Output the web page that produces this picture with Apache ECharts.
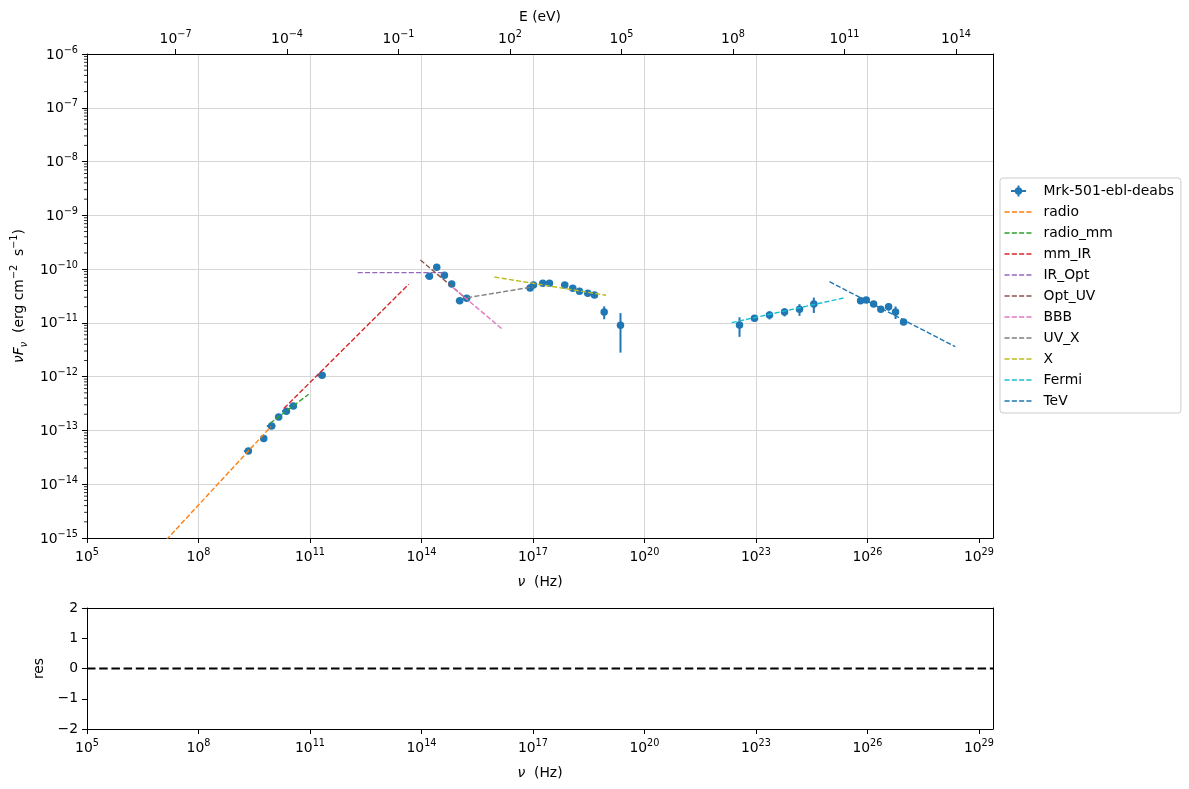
<!DOCTYPE html>
<html><head><meta charset="utf-8">
<script src="https://cdn.jsdelivr.net/npm/echarts@6/dist/echarts.min.js"></script>
<style>html,body{margin:0;padding:0;background:#fff}#c{width:1189px;height:789px}</style>
</head><body><div id="c"></div><script>
// ---------------- data ----------------
const SED_NAME = 'Mrk-501-ebl-deabs';
// observed SED points: frequency (Hz), nuFnu (erg cm^-2 s^-1) and symmetric errors
const nu = [2.2e9, 5.7e9, 9.3e9, 1.44e10, 2.32e10, 3.57e10, 2.11e11,
  1.64e14, 2.58e14, 4.15e14, 6.52e14, 1.07e15, 1.65e15,
  8.4e16, 1.03e17, 1.84e17, 2.78e17, 7.18e17, 1.18e18, 1.79e18, 2.99e18, 4.53e18, 8.26e18, 2.27e19,
  3.62e22, 9.16e22, 2.32e23, 5.89e23, 1.49e24, 3.62e24,
  6.55e25, 9.33e25, 1.47e26, 2.30e26, 3.72e26, 5.73e26, 9.40e26];
const nuFnu = [4.15e-14, 7.1e-14, 1.21e-13, 1.78e-13, 2.27e-13, 2.85e-13, 1.06e-12,
  7.35e-11, 1.08e-10, 7.67e-11, 5.28e-11, 2.59e-11, 2.86e-11,
  4.46e-11, 5.07e-11, 5.44e-11, 5.44e-11, 5.07e-11, 4.40e-11, 3.86e-11, 3.55e-11, 3.30e-11, 1.60e-11, 9.0e-12,
  9.1e-12, 1.22e-11, 1.40e-11, 1.60e-11, 1.79e-11, 2.24e-11,
  2.59e-11, 2.66e-11, 2.24e-11, 1.79e-11, 2.0e-11, 1.60e-11, 1.04e-11];
const nuErr = [5.3e8, 0.8e9, 2.4e9, 3.0e9, 5.5e9, 8.0e9, 5.5e10,
  4.0e13, 0, 0, 0, 2.3e14, 0,
  1.4e16, 0, 0, 0, 1.5e17, 0, 0, 0, 0, 0, 0,
  0, 0, 0, 0, 0, 0,
  1.3e25, 0, 0, 0, 0, 0, 0];
const nuFnuErr = [1.2e-15, 2e-15, 3.5e-15, 5e-15, 7e-15, 8e-15, 3e-14,
  2e-12, 3e-12, 2e-12, 1.5e-12, 8e-13, 8e-13,
  1.5e-12, 1.5e-12, 1.5e-12, 1.5e-12, 1.5e-12, 1.3e-12, 1.2e-12, 1.1e-12, 1e-12, 4.3e-12, 6.2e-12,
  3.6e-12, 1.7e-12, 2.4e-12, 2.8e-12, 4.4e-12, 7.1e-12,
  3.5e-12, 2.5e-12, 1.5e-12, 1.5e-12, 3.1e-12, 4.2e-12, 1e-12];

// model components (power-law segments): endpoints in Hz and erg cm^-2 s^-1
const modelNames  = ['radio', 'radio_mm', 'mm_IR', 'IR_Opt', 'Opt_UV', 'BBB', 'UV_X', 'X', 'Fermi', 'TeV'];
const modelColors = ['#ff7f0e', '#2ca02c', '#d62728', '#9467bd', '#8c564b', '#e377c2', '#7f7f7f', '#bcbd22', '#17becf', '#1f77b4'];
const modelNu = [
  [1e7, 8.91e9], [8.43e9, 9.23e10], [2.0e10, 4.54e13], [1.92e12, 4.60e14], [9.38e13, 1.78e15],
  [7.08e14, 1.45e16], [1.70e15, 1.0e17], [9.2e15, 9.33e18], [2.24e22, 2.28e25], [9.57e24, 2.32e28]];
const modelFlux = [
  [7.33e-16, 1.18e-13], [1.36e-13, 4.70e-13], [2.58e-13, 5.22e-11], [8.6e-11, 8.6e-11], [1.48e-10, 2.65e-11],
  [4.54e-11, 7.80e-12], [2.94e-11, 4.68e-11], [7.13e-11, 3.26e-11], [1.01e-11, 2.90e-11], [5.83e-11, 3.61e-12]];

// residuals: only the zero reference line
const residualLevel = 0;

// tick labels (exponents)
const xTickExp = [5, 8, 11, 14, 17, 20, 23, 26, 29];
const yTickExp = [-15, -14, -13, -12, -11, -10, -9, -8, -7, -6];
const eTickExp = [-7, -4, -1, 2, 5, 8, 11, 14];
const resTicks = [-2, -1, 0, 1, 2];

// ---------------- layout / style ----------------
const X_MIN = 5, X_MAX = 29.38;
const LOG_H_EV = Math.log10(4.135667696e-15); // E = h*nu
const FONT = 'DejaVu Sans';
const FS = 13.9;
const GRID_COLOR = '#d6d6d6';
const PT_COLOR = '#1f77b4';
const L = Math.log10;

const minusify = (n) => (n < 0 ? '\u2212' + (-n) : '' + n);
const powRich = {
  b: {fontFamily: FONT, fontSize: FS, color: '#000', verticalAlign: 'bottom', lineHeight: 16},
  s: {fontFamily: FONT, fontSize: 9.7, color: '#000', verticalAlign: 'bottom', lineHeight: 11, padding: [0, 0, 7, 0]}
};
function powLabel(v) {
  const r = Math.round(v);
  if (Math.abs(v - r) > 1e-6) return '';
  return '{b|10}{s|' + minusify(r) + '}';
}
const nameRich = {
  i: {fontFamily: FONT, fontSize: FS, fontStyle: 'italic', color: '#000', verticalAlign: 'bottom', lineHeight: 16, padding: [0, 0, 3, 0]},
  n: {fontFamily: FONT, fontSize: FS, color: '#000', verticalAlign: 'bottom', lineHeight: 16, padding: [0, 0, 3, 0]},
  sub: {fontFamily: FONT, fontSize: 9.7, fontStyle: 'italic', color: '#000', verticalAlign: 'bottom', lineHeight: 11, padding: [0, 0, 0, 0]},
  sup: {fontFamily: FONT, fontSize: 9.7, color: '#000', verticalAlign: 'bottom', lineHeight: 11, padding: [0, 0, 10, 0]}
};

// minor ticks of log y axis
const minorY = [];
for (let n = -15; n < -6; n++) for (let k = 2; k <= 9; k++) minorY.push([X_MIN, n + L(k)]);

// ---------------- series ----------------
const errData = nu.map((x, i) => {
  const y = nuFnu[i], dy = nuFnuErr[i], dx = nuErr[i];
  const yl = y - dy > 0 ? L(y - dy) : L(y) - 3;
  return [L(x), L(y), dx > 0 ? L(x - dx) : L(x), L(x + dx), yl, L(y + dy)];
});
const ptData = nu.map((x, i) => [L(x), L(nuFnu[i])]);

const series = [];
series.push({
  type: 'custom', name: '_minor', xAxisIndex: 0, yAxisIndex: 0, silent: true, clip: false, z: 10,
  data: minorY,
  renderItem: (p, api) => {
    const c = api.coord([api.value(0), api.value(1)]);
    return {type: 'line', shape: {x1: c[0] - 3, y1: c[1], x2: c[0], y2: c[1]}, style: {stroke: '#000', lineWidth: 0.8}};
  }
});
series.push({
  type: 'custom', name: SED_NAME, xAxisIndex: 0, yAxisIndex: 0, silent: true, z: 4,
  data: errData,
  renderItem: (p, api) => {
    const c = api.coord([api.value(0), api.value(1)]);
    const xl = api.coord([api.value(2), api.value(1)]);
    const xh = api.coord([api.value(3), api.value(1)]);
    const yl = api.coord([api.value(0), api.value(4)]);
    const yh = api.coord([api.value(0), api.value(5)]);
    return {type: 'group', children: [
      {type: 'line', shape: {x1: xl[0], y1: c[1], x2: xh[0], y2: c[1]}, style: {stroke: PT_COLOR, lineWidth: 2}},
      {type: 'line', shape: {x1: c[0], y1: yl[1], x2: c[0], y2: yh[1]}, style: {stroke: PT_COLOR, lineWidth: 2}}
    ]};
  },
  itemStyle: {color: PT_COLOR}
});
series.push({
  type: 'scatter', name: SED_NAME, xAxisIndex: 0, yAxisIndex: 0, silent: true, z: 5,
  symbol: 'circle', symbolSize: 7.5, itemStyle: {color: PT_COLOR, opacity: 1},
  data: ptData
});
modelNames.forEach((n, i) => {
  series.push({
    type: 'line', name: n, xAxisIndex: 0, yAxisIndex: 0, silent: true, z: 6, clip: true,
    symbol: 'none', showSymbol: false,
    lineStyle: {color: modelColors[i], width: 1.4, type: [5.1, 2.2]},
    itemStyle: {color: modelColors[i]},
    data: modelNu[i].map((x, j) => [L(x), L(modelFlux[i][j])])
  });
});
series.push({
  type: 'line', name: '_res', xAxisIndex: 2, yAxisIndex: 2, silent: true, symbol: 'none', showSymbol: false,
  lineStyle: {color: '#000', width: 2, type: [8.5, 3.7]},
  data: [[X_MIN, residualLevel], [X_MAX, residualLevel]]
});

// ---------------- legend icons ----------------
const corners = 'M0,0h0.01v0.01h-0.01zM28,14h0.01v0.01h-0.01z';
const dashIcon = 'path://' + corners + 'M0,6.3h5.1v1.4h-5.1zM7.3,6.3h5.1v1.4h-5.1zM14.6,6.3h5.1v1.4h-5.1zM21.9,6.3h5.1v1.4h-5.1z';
const markerIcon = 'path://' + corners + 'M6.5,6h15v2h-15zM13,1.5h2v11h-2zM10.3,7a3.7,3.7 0 1,1 7.4,0a3.7,3.7 0 1,1 -7.4,0z';

const axisLineBlack = {show: true, onZero: false, lineStyle: {color: '#000', width: 1}};
const tickBlack = {show: true, inside: false, length: 5, lineStyle: {color: '#000', width: 1}};

const option = {
  animation: false,
  backgroundColor: '#fff',
  grid: [
    {left: 87, right: 196, top: 54, height: 484, containLabel: false},
    {left: 87, right: 196, top: 608, height: 121, containLabel: false}
  ],
  legend: {
    orient: 'vertical', left: 1000, top: 178, padding: [6, 7, 5, 4.5],
    itemWidth: 28, itemHeight: 14, itemGap: 7,
    backgroundColor: 'rgba(255,255,255,0.8)', borderColor: '#cccccc', borderWidth: 1, borderRadius: 3,
    selectedMode: false,
    textStyle: {fontFamily: FONT, fontSize: FS, color: '#000', padding: [0, 0, 0, 6]},
    data: [{name: SED_NAME, icon: markerIcon, itemStyle: {color: PT_COLOR}}]
      .concat(modelNames.map((n, i) => ({name: n, icon: dashIcon, itemStyle: {color: modelColors[i]}})))
  },
  xAxis: [
    { gridIndex: 0, type: 'value', position: 'bottom', min: X_MIN, max: X_MAX, interval: 3,
      axisLine: axisLineBlack,
      axisTick: Object.assign({customValues: xTickExp}, tickBlack),
      axisLabel: {margin: 10, formatter: powLabel, rich: powRich, customValues: xTickExp},
      splitLine: {show: true, showMinLine: false, showMaxLine: false, lineStyle: {color: GRID_COLOR, width: 1}},
      name: '{i|\u03bd}{n|  (Hz)}', nameLocation: 'middle', nameGap: 38, nameTextStyle: {rich: nameRich}
    },
    { gridIndex: 0, type: 'value', position: 'top', min: X_MIN + LOG_H_EV, max: X_MAX + LOG_H_EV,
      axisLine: axisLineBlack,
      axisTick: Object.assign({customValues: eTickExp}, tickBlack),
      axisLabel: {margin: 8, formatter: powLabel, rich: powRich, customValues: eTickExp},
      splitLine: {show: false},
      name: 'E (eV)', nameLocation: 'middle', nameGap: 30,
      nameTextStyle: {fontFamily: FONT, fontSize: FS, color: '#000'}
    },
    { gridIndex: 1, type: 'value', position: 'bottom', min: X_MIN, max: X_MAX, interval: 3,
      axisLine: axisLineBlack,
      axisTick: Object.assign({customValues: xTickExp}, tickBlack),
      axisLabel: {margin: 10, formatter: powLabel, rich: powRich, customValues: xTickExp},
      splitLine: {show: false},
      name: '{i|\u03bd}{n|  (Hz)}', nameLocation: 'middle', nameGap: 38, nameTextStyle: {rich: nameRich}
    },
    { gridIndex: 1, type: 'value', position: 'top', min: X_MIN, max: X_MAX,
      axisLine: axisLineBlack, axisTick: {show: false}, axisLabel: {show: false}, splitLine: {show: false}
    }
  ],
  yAxis: [
    { gridIndex: 0, type: 'value', position: 'left', min: -15, max: -6, interval: 1,
      axisLine: axisLineBlack, axisTick: tickBlack,
      axisLabel: {margin: 9, formatter: powLabel, rich: powRich},
      splitLine: {show: true, showMinLine: false, showMaxLine: false, lineStyle: {color: GRID_COLOR, width: 1}},
      name: '{i|\u03bdF}{sub|\u03bd}{n|  (erg cm}{sup|\u22122}{n|  s}{sup|\u22121}{n|)}',
      nameLocation: 'middle', nameGap: 58, nameRotate: 90, nameTextStyle: {rich: nameRich}
    },
    { gridIndex: 0, type: 'value', position: 'right', min: -15, max: -6,
      axisLine: axisLineBlack, axisTick: {show: false}, axisLabel: {show: false}, splitLine: {show: false}
    },
    { gridIndex: 1, type: 'value', position: 'left', min: -2, max: 2, interval: 1,
      axisLine: axisLineBlack, axisTick: tickBlack,
      axisLabel: {margin: 9, fontFamily: FONT, fontSize: FS, color: '#000', formatter: (v) => minusify(Math.round(v))},
      splitLine: {show: false},
      name: 'res', nameLocation: 'middle', nameGap: 33, nameRotate: 90,
      nameTextStyle: {fontFamily: FONT, fontSize: FS, color: '#000'}
    },
    { gridIndex: 1, type: 'value', position: 'right', min: -2, max: 2,
      axisLine: axisLineBlack, axisTick: {show: false}, axisLabel: {show: false}, splitLine: {show: false}
    }
  ],
  series: series
};
const chart = echarts.init(document.getElementById('c'), null, {renderer: 'canvas'});
chart.setOption(option);
</script></body></html>
